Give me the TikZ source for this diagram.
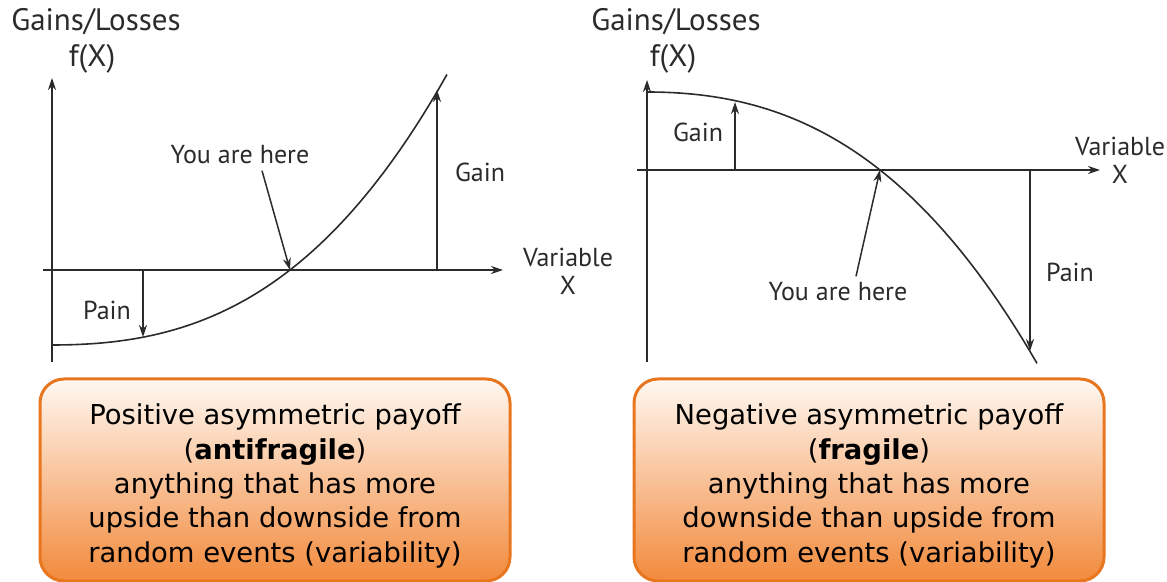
\documentclass[tikz,border=0pt]{standalone}
\usepackage{fontspec}
\setmainfont{DejaVu Sans}
\newfontfamily\axisfont{PT Sans}
\usetikzlibrary{arrows.meta, positioning}
\definecolor{payEdge}{HTML}{E8761F}
\definecolor{payTop}{HTML}{FFF8F2}
\definecolor{payBottom}{HTML}{F28A3C}
\definecolor{inkDark}{HTML}{2B2B2B}

\begin{document}
\begin{tikzpicture}[x=0.5pt, y=-0.5pt,
   axis/.style={line width=0.75pt, draw=inkDark, -{Stealth[length=6pt,width=4pt]}},
   curve/.style={line width=0.8pt, draw=inkDark},
   move/.style={line width=0.75pt, draw=inkDark, -{Stealth[length=6pt,width=4pt]}},
   lbl/.style={font=\axisfont\fontsize{13}{14}\selectfont, inner sep=0pt,
               align=center, text=inkDark},
   head/.style={lbl, font=\axisfont\fontsize{15.5}{16}\selectfont},
   payoff/.style={rectangle, rounded corners=12pt, draw=payEdge,
                  line width=1.5pt, top color=payTop, bottom color=payBottom,
                  minimum width=235pt, minimum height=101pt},
   paytext/.style={align=center, inner sep=0pt,
                   font=\fontsize{13.7}{17.2}\selectfont}]
\useasboundingbox (0,0) rectangle (1167,582);

% left: convex payoff
\node[head] (titleA) at (96,22) {Gains/Losses};
\node[head] (fxA) at (92,59) {f(X)};
\node[lbl] (varA) at (568,271) {Variable\\X};
\coordinate (yBotA) at (52,362);
\coordinate (yTopA) at (52,78);
\coordinate (xLeftA) at (43,270);
\coordinate (xRightA) at (503,270);
\draw[axis] (yBotA) -- (yTopA);
\draw[axis] (xLeftA) -- (xRightA);
\draw[curve] plot[domain=0:3.95, samples=60]
  ({52+100*\x}, {345-7.03*\x*\x-2.611*\x*\x*\x});

\coordinate (crossA) at (290,270);
\node[lbl] (hereA) at (240,155) {You are here};
\draw[move] ([xshift=11pt,yshift=-3pt]hereA.south) -- (crossA);

\coordinate (gainBaseA) at (437,270);
\coordinate (gainTipA) at (437,90);
\draw[move] (gainBaseA) -- (gainTipA);
\node[lbl] (gainA) at (480,172) {Gain};

\coordinate (painBaseA) at (143,270);
\coordinate (painTipA) at (143,337);
\draw[move] (painBaseA) -- (painTipA);
\node[lbl] (painA) at (107,310) {Pain};

% right: concave payoff
\node[head] (titleB) at (676,22) {Gains/Losses};
\node[head] (fxB) at (673,59) {f(X)};
\node[lbl] (varB) at (1120,160) {Variable\\X};
\coordinate (yBotB) at (647,362);
\coordinate (yTopB) at (647,80);
\coordinate (xLeftB) at (637,170);
\coordinate (xRightB) at (1100,170);
\draw[axis] (yBotB) -- (yTopB);
\draw[axis] (xLeftB) -- (xRightB);
\draw[curve] plot[domain=0:3.9, samples=60]
  ({647+100*\x}, {92+9.20*\x*\x+2.216*\x*\x*\x});

\coordinate (crossB) at (880,170);
\node[lbl] (hereB) at (838,292) {You are here};
\draw[move] ([xshift=9pt,yshift=3pt]hereB.north) -- (crossB);

\coordinate (gainBaseB) at (735,170);
\coordinate (gainTipB) at (735,102);
\draw[move] (gainBaseB) -- (gainTipB);
\node[lbl] (gainB) at (698,132) {Gain};

\coordinate (painBaseB) at (1030,170);
\coordinate (painTipB) at (1030,351);
\draw[move] (painBaseB) -- (painTipB);
\node[lbl] (painB) at (1070,272) {Pain};

% payoff boxes
\node[payoff] (boxA) at (275,480) {};
\node[paytext] (payA) at ([yshift=-3pt]boxA.center)
  {Positive asymmetric payoff\\(\textbf{antifragile})\\anything that has more\\
   upside than downside from\\random events (variability)};
\node[payoff] (boxB) at (869,480) {};
\node[paytext] (payB) at ([yshift=-3pt]boxB.center)
  {Negative asymmetric payoff\\(\textbf{fragile})\\anything that has more\\
   downside than upside from\\random events (variability)};
\end{tikzpicture}
\end{document}
